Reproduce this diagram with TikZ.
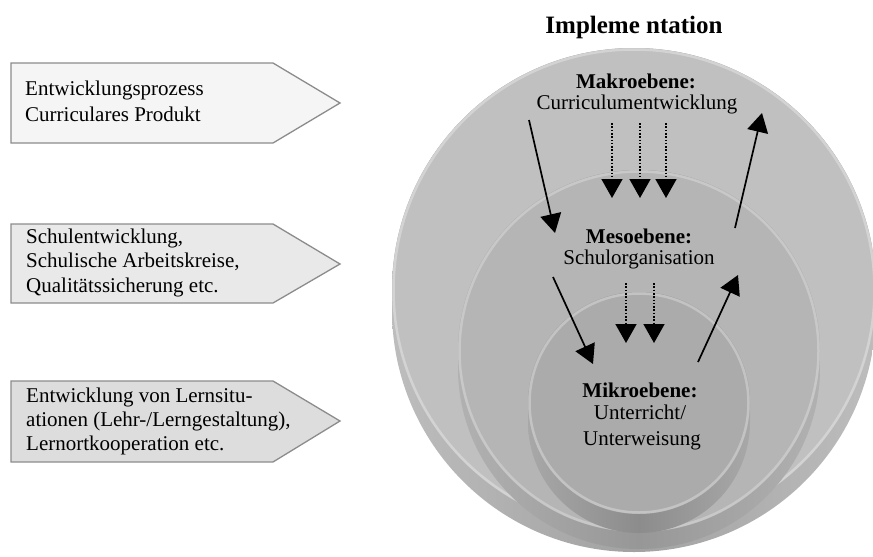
\documentclass[tikz,border=0pt]{standalone}
\usepackage{fontspec}
\setmainfont{Liberation Serif}
\usetikzlibrary{arrows.meta}

\definecolor{boxA}{HTML}{F5F5F5}
\definecolor{boxB}{HTML}{E9E9E9}
\definecolor{boxC}{HTML}{DDDDDD}
\definecolor{boxline}{HTML}{8C8C8C}
\definecolor{faceA}{HTML}{C0C0C0}
\definecolor{rimA}{HTML}{D3D3D3}
\definecolor{faceB}{HTML}{B5B5B5}
\definecolor{rimB}{HTML}{C8C8C8}
\definecolor{faceC}{HTML}{ABABAB}
\definecolor{rimC}{HTML}{C3C3C3}
\definecolor{sideA}{HTML}{BDBDBD}
\definecolor{sideAm}{HTML}{A2A2A2}
\definecolor{sideB}{HTML}{B1B1B1}
\definecolor{sideBm}{HTML}{979797}
\definecolor{sideC}{HTML}{A8A8A8}
\definecolor{sideCm}{HTML}{8C8C8C}

% one level disc: centre x, centre y, radius, thickness, face, rim, side colour, side middle colour
\newcommand{\leveldisc}[8]{%
  \path[left color=#7, right color=#7, middle color=#8]
    (#1-#3,#2) arc[start angle=180,end angle=0,radius=#3]
    -- (#1+#3,#2-#4) arc[start angle=0,end angle=-180,radius=#3] -- cycle;
  \fill[#5] (#1,#2) circle[radius=#3];
  \draw[#6, line width=2.5] (#1,#2) circle[radius=#3-1.5];
}

\tikzset{
  sidebox/.style={draw=boxline, line width=1.3},
  boxtext/.style={font=\fontsize{21}{25}\selectfont, align=left, inner sep=0, anchor=base west},
  lvlhead/.style={font=\bfseries\fontsize{21}{25}\selectfont, inner sep=0, anchor=base},
  lvltext/.style={font=\fontsize{21}{25}\selectfont, inner sep=0, anchor=base},
  flow/.style={line width=1.7, -{Triangle[width=21pt,length=19pt]}},
  cascade/.style={line width=1.7, dash pattern=on 1.6pt off 1.7pt, -{Triangle[width=21pt,length=19pt]}}
}

\begin{document}
\begin{tikzpicture}[x=1pt,y=1pt]
\useasboundingbox (0,0) rectangle (873,-557);
\clip (0,0) rectangle (873,-557);

% pointer boxes on the left
\path[sidebox, fill=boxA] (11,-63) -- (273,-63) -- (340,-103) -- (273,-143) -- (11,-143) -- cycle;
\path[sidebox, fill=boxB] (11,-224) -- (273,-224) -- (340,-264) -- (273,-303) -- (11,-303) -- cycle;
\path[sidebox, fill=boxC] (11,-381) -- (273,-381) -- (340,-421) -- (273,-462) -- (11,-462) -- cycle;

% texts are anchored at the baseline of their last line
\node[boxtext, font=\fontsize{21}{26}\selectfont] (boxmakro) at (25,-121)
  {Entwicklungsprozess\\Curriculares Produkt};
\node[boxtext, font=\fontsize{21}{24.5}\selectfont] (boxmeso) at (26,-292)
  {Schulentwicklung,\\Schulische Arbeitskreise,\\Qualitätssicherung etc.};
\node[boxtext, font=\fontsize{21}{24}\selectfont] (boxmikro) at (26,-450)
  {Entwicklung von Lernsitu-\\ationen (Lehr-/Lerngestaltung),\\Lernortkooperation etc.};

% stacked level discs
\leveldisc{634}{-290}{242}{20}{faceA}{rimA}{sideA}{sideAm}
\leveldisc{639}{-351}{181}{17}{faceB}{rimB}{sideB}{sideBm}
\leveldisc{639}{-403}{111}{19}{faceC}{rimC}{sideC}{sideCm}

% title and level labels
\node[font=\bfseries\fontsize{25}{30}\selectfont, inner sep=0, anchor=base] (title) at (634,-33) {Impleme ntation};

\node[lvlhead] (makro) at (636,-88) {Makroebene:};
\node[lvltext] (makrotext) at (637,-109) {Curriculumentwicklung};
\node[lvlhead] (meso) at (639,-243) {Mesoebene:};
\node[lvltext] (mesotext) at (639,-264) {Schulorganisation};
\node[lvlhead] (mikro) at (640,-397) {Mikroebene:};
\node[lvltext] (mikrotext) at (640,-419) {Unterricht/};
\node[lvltext] (mikrotextb) at (642,-445) {Unterweisung};

% arrow end points
\coordinate (downA) at (529,-120);
\coordinate (downAend) at (555,-233);
\coordinate (downB) at (553,-277);
\coordinate (downBend) at (593,-364);
\coordinate (upB) at (698,-362);
\coordinate (upBend) at (738,-275);
\coordinate (upA) at (735,-228);
\coordinate (upAend) at (762,-113);

\coordinate (casA1) at (612,-123);
\coordinate (casA1end) at (612,-198);
\coordinate (casA2) at (640,-123);
\coordinate (casA2end) at (640,-198);
\coordinate (casA3) at (666,-123);
\coordinate (casA3end) at (666,-198);
\coordinate (casB1) at (626,-283);
\coordinate (casB1end) at (626,-343);
\coordinate (casB2) at (654,-283);
\coordinate (casB2end) at (654,-343);

\draw[flow] (downA) -- (downAend);
\draw[flow] (downB) -- (downBend);
\draw[flow] (upB) -- (upBend);
\draw[flow] (upA) -- (upAend);

\draw[cascade] (casA1) -- (casA1end);
\draw[cascade] (casA2) -- (casA2end);
\draw[cascade] (casA3) -- (casA3end);
\draw[cascade] (casB1) -- (casB1end);
\draw[cascade] (casB2) -- (casB2end);
\end{tikzpicture}
\end{document}
